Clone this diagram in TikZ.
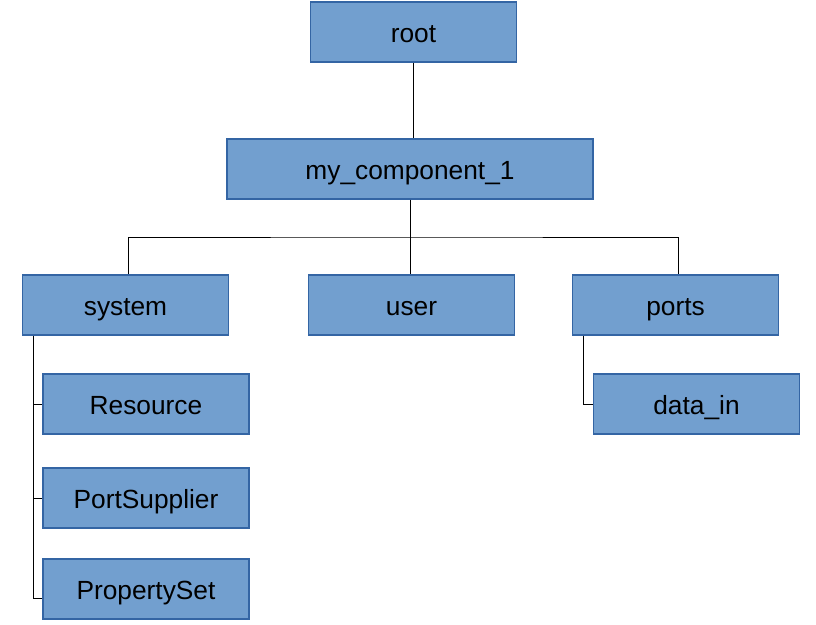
\documentclass[tikz,border=0pt]{standalone}
\usepackage{fontspec}
\setmainfont{Liberation Sans}
\definecolor{boxfill}{HTML}{729FCF}
\definecolor{boxline}{HTML}{3465A4}
\begin{document}
\begin{tikzpicture}[x=1pt,y=-1pt,
  treebox/.style={draw=boxline, fill=boxfill, line width=1.2pt, rectangle,
    minimum width=206pt, minimum height=60pt, inner sep=0pt,
    text height=20pt, text depth=0pt,
    font=\fontsize{26.3}{31}\selectfont, text=black},
  link/.style={draw=black, line width=1pt}]
\useasboundingbox (0,0) rectangle (816,624);
\node[treebox] (root) at (413.5,32) {root};
\node[treebox, minimum width=366pt] (mycomp) at (410,169) {my\_component\_1};
\node[treebox] (system) at (125.5,305) {system};
\node[treebox] (user) at (411.5,305) {user};
\node[treebox] (ports) at (675.5,305) {ports};
\node[treebox] (resource) at (146,404) {Resource};
\node[treebox] (portsupplier) at (146,498) {PortSupplier};
\node[treebox] (propertyset) at (146,589) {PropertySet};
\node[treebox] (datain) at (696.5,404) {data\_in};
\coordinate (bar) at (410,237);
\draw[link] (root.south) -- (root.south |- mycomp.north);
\draw[link] (mycomp.south) -- (bar);
\draw[link] ([xshift=2.5pt]system.north) |- (bar) -| ([xshift=2.5pt]ports.north);
\draw[link] (bar) -- (bar |- user.north);
\coordinate (sysv) at ([xshift=-92.5pt]system.south);
\draw[link] (sysv) |- ([yshift=-9pt]propertyset.west);
\draw[link] (sysv |- resource.west) -- (resource.west);
\draw[link] (sysv |- portsupplier.west) -- (portsupplier.west);
\coordinate (portv) at ([xshift=-92.5pt]ports.south);
\draw[link] (portv) |- (datain.west);
\end{tikzpicture}
\end{document}
